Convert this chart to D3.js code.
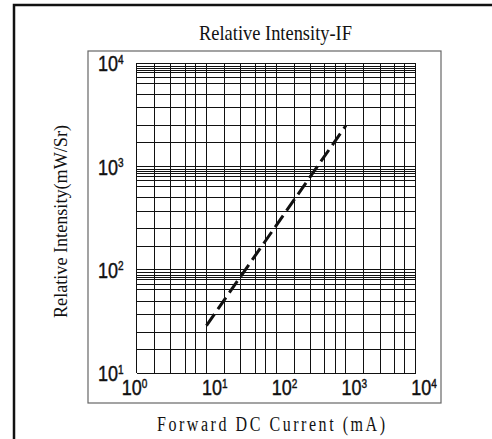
<!DOCTYPE html>
<html>
<head>
<meta charset="utf-8">
<script src="https://cdn.jsdelivr.net/npm/d3@7"></script>
<style>
  body { margin: 0; background: #fff; }
</style>
</head>
<body>
<div class="relative-intensity"></div>
<script>
// values
const currentMA = [10, 1000];
const intensity = [29, 2500];

const xDecades = [1, 10, 100, 1000, 10000];
const yDecades = [10, 100, 1000, 10000];
const xExponents = ['0', '1', '2', '3', '4'];
const yExponents = ['1', '2', '3', '4'];
// the printed grid is not a true log grid, these are the multipliers it uses
const xMinor = [1.8, 3.1, 5, 7];
const yMinor = [1.7, 2.5, 3.7, 5, 6.4, 7.3, 8.1, 8.5, 8.9, 9.4];

const titleText = 'Relative Intensity-IF';
const xLabel = 'Forward DC Current (mA)';
const yLabel = 'Relative Intensity(mW/Sr)';

const width = 492, height = 439;
const plot = { left: 136.7, right: 415.7, top: 63.3, bottom: 373.3 };

const svg = d3.select('.relative-intensity')
    .append('svg')
    .attr('width', width)
    .attr('height', height);

// outer frame (cut off on the right and bottom like the scan)
svg.append('path')
    .attr('d', `M14,${height} V5 H${width}`)
    .attr('fill', 'none')
    .attr('stroke', '#111')
    .attr('stroke-width', 2.5);

// inner box
svg.append('rect')
    .attr('x', 88).attr('y', 51)
    .attr('width', 353).attr('height', 352)
    .attr('fill', 'none')
    .attr('stroke', '#666')
    .attr('stroke-width', 1.2);

const x = d3.scaleLog()
    .domain([1, 10000])
    .range([plot.left, plot.right]);

const y = d3.scaleLog()
    .domain([10, 10000])
    .range([plot.bottom, plot.top]);

// grid values
let xGrid = [];
xDecades.forEach((d, i) => {
    xGrid.push(d);
    if (i < xDecades.length - 1) xMinor.forEach(m => xGrid.push(d * m));
});
let yGrid = [];
yDecades.forEach((d, i) => {
    yGrid.push(d);
    if (i < yDecades.length - 1) yMinor.forEach(m => yGrid.push(d * m));
});

const grid = svg.append('g')
    .attr('stroke', '#111')
    .attr('stroke-width', 1)
    .attr('shape-rendering', 'crispEdges');

grid.selectAll('.vline')
    .data(xGrid)
    .enter().append('line')
    .attr('x1', d => x(d)).attr('x2', d => x(d))
    .attr('y1', plot.top).attr('y2', plot.bottom);

grid.selectAll('.hline')
    .data(yGrid)
    .enter().append('line')
    .attr('x1', plot.left).attr('x2', plot.right)
    .attr('y1', d => y(d)).attr('y2', d => y(d));

// tick labels, "10" with a superscript, stretched a bit vertically
const tickFont = 'Liberation Sans, Arial, sans-serif';

const yTicks = svg.selectAll('.ytick')
    .data(yDecades)
    .enter().append('g')
    .attr('transform', d => `translate(98,${y(d) + 8}) scale(1,1.25)`)
    .append('text')
    .style('font-family', tickFont)
    .style('font-size', '18px')
    .attr('fill', '#111')
    .attr('stroke', '#111')
    .attr('stroke-width', 0.35);
yTicks.append('tspan').text('10');
yTicks.append('tspan')
    .attr('dy', -6)
    .style('font-size', '10px')
    .text((d, i) => yExponents[i]);

const xTicks = svg.selectAll('.xtick')
    .data(xDecades)
    .enter().append('g')
    .attr('transform', (d, i) => `translate(${x(d) - (i === 0 ? 15 : 4.5)},395) scale(1,1.25)`)
    .append('text')
    .style('font-family', tickFont)
    .style('font-size', '18px')
    .attr('fill', '#111')
    .attr('stroke', '#111')
    .attr('stroke-width', 0.35);
xTicks.append('tspan').text('10');
xTicks.append('tspan')
    .attr('dy', -6)
    .style('font-size', '10px')
    .text((d, i) => xExponents[i]);

// the curve
svg.append('path')
    .datum(currentMA.map((c, i) => [c, intensity[i]]))
    .attr('fill', 'none')
    .attr('stroke', '#111')
    .attr('stroke-width', 3)
    .attr('stroke-dasharray', '14,6')
    .attr('d', d3.line()
        .x(d => x(d[0]))
        .y(d => y(d[1])));

// texts
const serif = 'Liberation Serif, Times New Roman, serif';

svg.append('g')
    .attr('transform', 'translate(199,40) scale(1,1.2)')
    .append('text')
    .attr('textLength', 153)
    .attr('lengthAdjust', 'spacingAndGlyphs')
    .style('font-family', serif)
    .style('font-size', '17px')
    .attr('fill', '#111')
    .text(titleText);

svg.append('text')
    .attr('transform', 'translate(67,318) rotate(-90)')
    .attr('textLength', 193)
    .attr('lengthAdjust', 'spacingAndGlyphs')
    .style('font-family', serif)
    .style('font-size', '18px')
    .attr('fill', '#111')
    .text(yLabel);

svg.append('g')
    .attr('transform', 'translate(157,431) scale(1,1.25)')
    .append('text')
    .attr('textLength', 228)
    .attr('lengthAdjust', 'spacing')
    .style('font-family', serif)
    .style('font-size', '16px')
    .attr('fill', '#111')
    .text(xLabel);
</script>
</body>
</html>
